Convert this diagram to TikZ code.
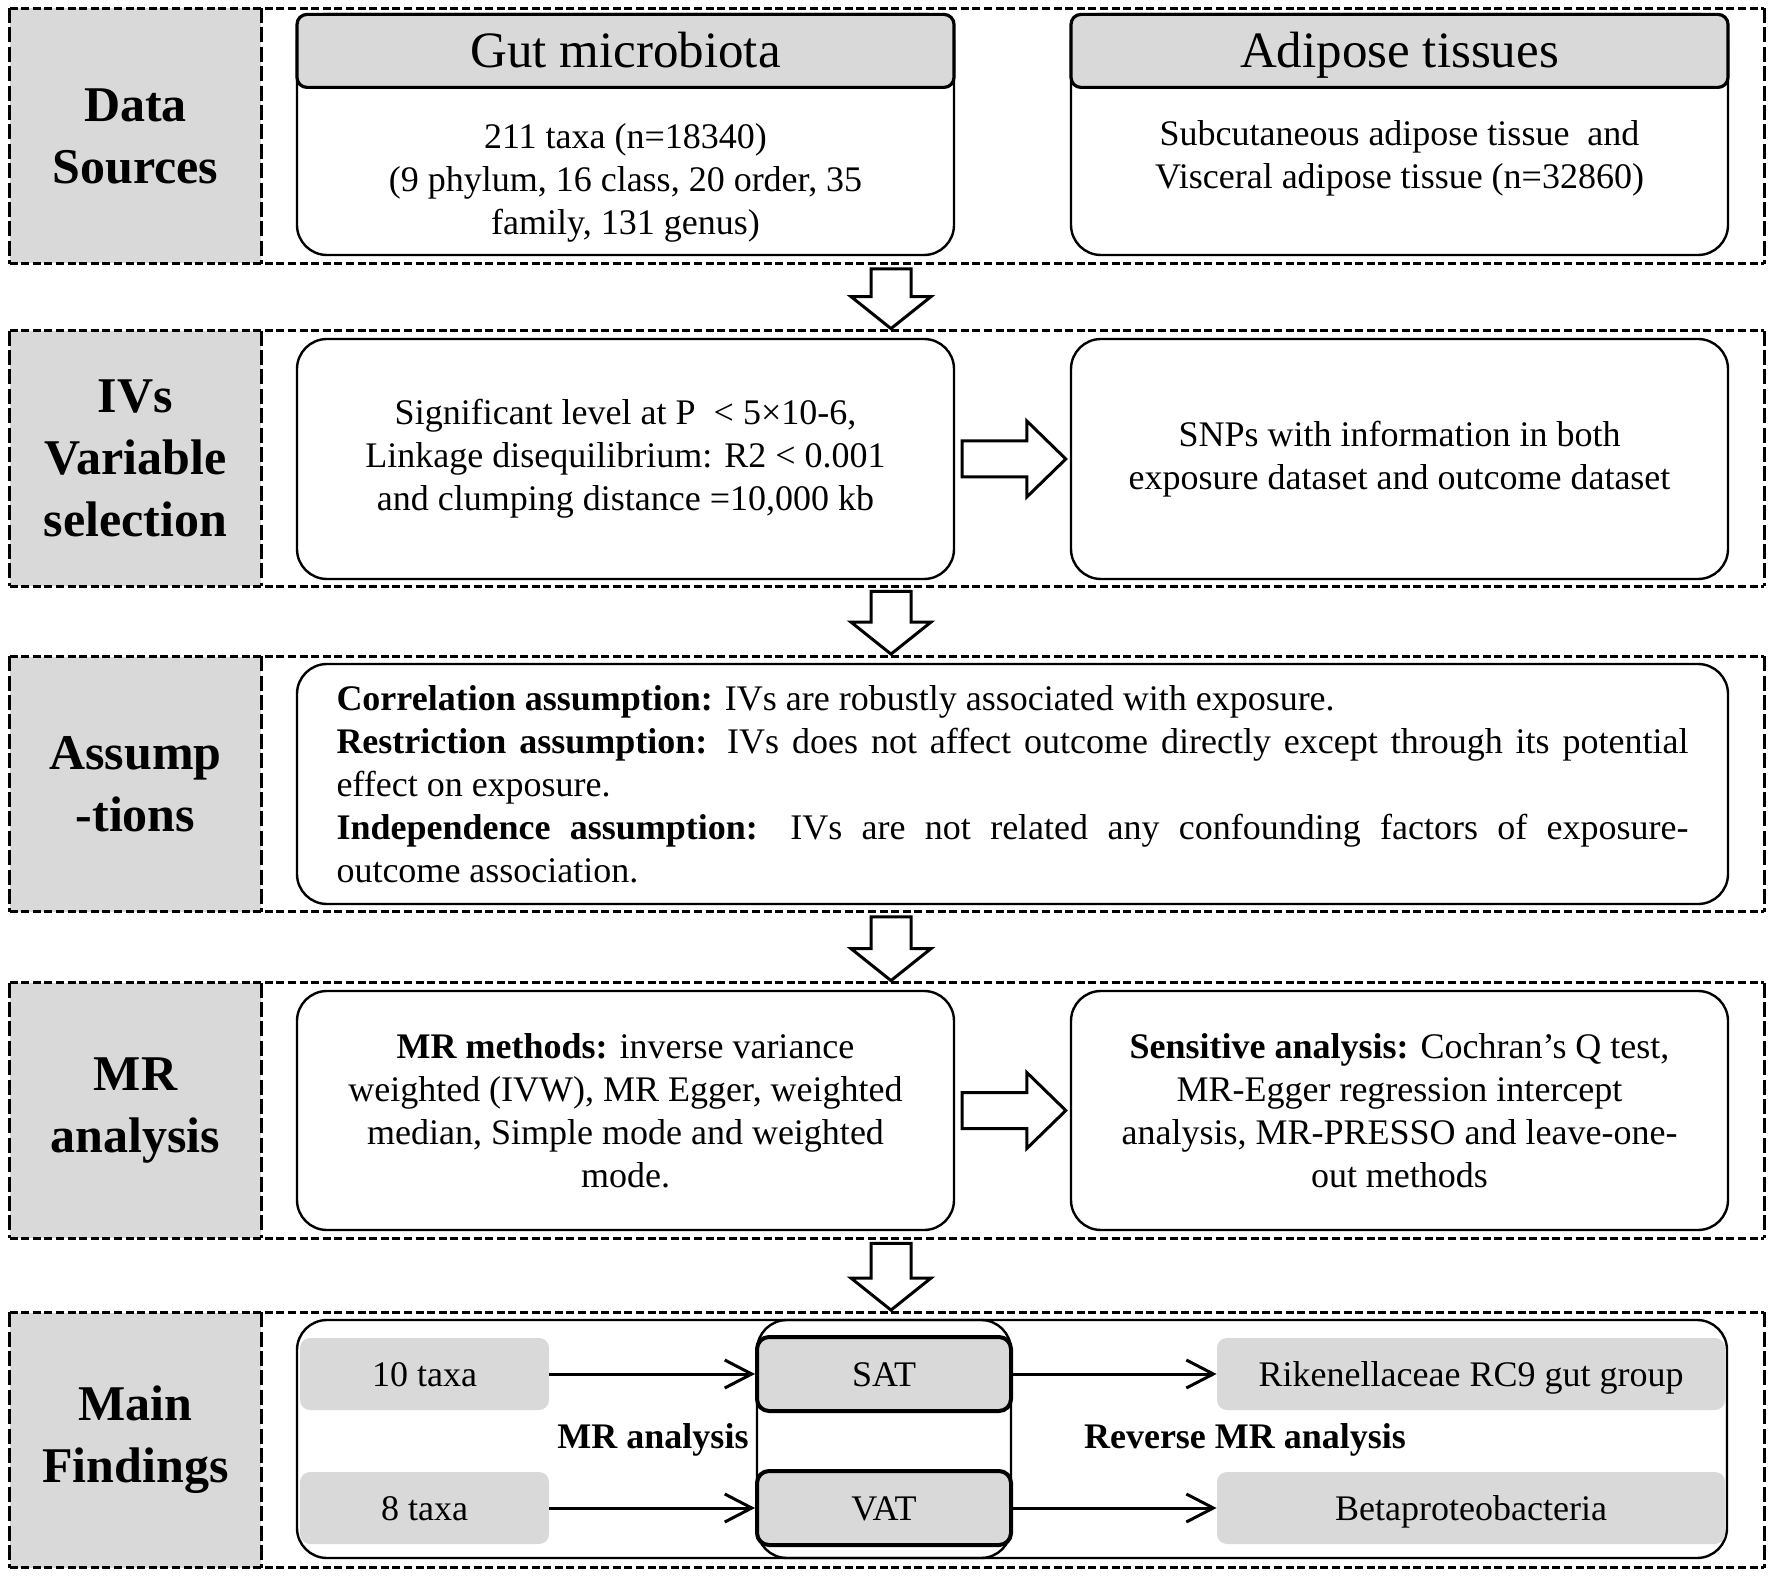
\documentclass[tikz,border=0pt]{standalone}
\usepackage{fontspec}
\setmainfont{Liberation Serif}
\usepackage{tikz}
\usetikzlibrary{arrows.meta, calc, positioning}
\definecolor{cellGray}{HTML}{D9D9D9}
\setlength{\parindent}{0pt}
\tikzstyle{sectFrame} = [minimum width=877pt, minimum height=127.5pt, inner sep=0pt]
\tikzstyle{frameH} = [line width=1.5pt, dash pattern=on 4pt off 1.8pt]
\tikzstyle{frameV} = [line width=1.3pt, dash pattern=on 7.5pt off 2.2pt]
\tikzstyle{labelCell} = [fill=cellGray, minimum width=125.5pt, minimum height=127.5pt,
   inner sep=0pt, align=center, font=\fontsize{25}{31}\selectfont\bfseries]
\tikzstyle{bodyText} = [align=center, font=\fontsize{18}{21.5}\selectfont]
\tikzstyle{mainBox} = [draw, line width=1.2pt, rounded corners=15pt, minimum width=328.5pt, bodyText]
\tikzstyle{headBox} = [draw, fill=cellGray, line width=1.6pt, rounded corners=5pt,
   minimum width=328.5pt, minimum height=36.5pt, text height=17pt, text depth=0pt,
   font=\fontsize{25.5}{30}\selectfont]
\tikzstyle{grayBox} = [fill=cellGray, rounded corners=5pt, minimum height=36pt,
   text height=13pt, text depth=1pt, bodyText]
\tikzstyle{siteBox} = [draw, fill=cellGray, line width=2pt, rounded corners=6pt,
   minimum width=127pt, minimum height=37pt, text height=13pt, text depth=1pt, bodyText]
\tikzstyle{thinArrow} = [line width=1.5pt, -{Straight Barb[length=13.5pt, width=14pt]}]
\tikzstyle{blockDown} = [draw, line width=1.5pt, fill=white,
   to path={let \p1=(\tikztostart), \p2=(\tikztotarget) in
   (\x1-10pt,\y1-2.5pt) -- (\x1+10pt,\y1-2.5pt) -- (\x1+10pt,\y2+17pt) -- (\x1+20pt,\y2+17pt)
   -- (\x1,\y2+1pt) -- (\x1-20pt,\y2+17pt) -- (\x1-10pt,\y2+17pt) -- cycle}]
\tikzstyle{blockRight} = [draw, line width=1.5pt, fill=white,
   to path={let \p1=(\tikztostart), \p2=(\tikztotarget) in
   (\x1+3.5pt,\y1-9pt) -- (\x2-21.5pt,\y1-9pt) -- (\x2-21.5pt,\y1-19pt) -- (\x2-2pt,\y1)
   -- (\x2-21.5pt,\y1+19pt) -- (\x2-21.5pt,\y1+9pt) -- (\x1+3.5pt,\y1+9pt) -- cycle}]

\begin{document}
\begin{tikzpicture}[x=0.5pt, y=-0.5pt]
  \useasboundingbox (0,0) rectangle (1772,1577);

  % sections and their grey label cells
  \node[sectFrame] (s1) at (887,136) {};
  \node[sectFrame] (s2) at (887,458.5) {};
  \node[sectFrame] (s3) at (887,784) {};
  \node[sectFrame] (s4) at (887,1110.5) {};
  \node[sectFrame] (s5) at (887,1440) {};
  \node[labelCell] (lab1) at (135.5,136) {Data\\Sources};
  \node[labelCell] (lab2) at (135.5,458.5) {IVs\\Variable\\selection};
  \node[labelCell] (lab3) at (135.5,784) {Assump\\-tions};
  \node[labelCell] (lab4) at (135.5,1110.5) {MR\\analysis};
  \node[labelCell] (lab5) at (135.5,1440) {Main\\Findings};
  \foreach \i in {1,...,5}{
    \draw[frameH] (s\i.north west) -- (s\i.north east) (s\i.south west) -- (s\i.south east);
    \draw[frameV] (s\i.north west) -- (s\i.south west) (s\i.north east) -- (s\i.south east);
    \draw[frameV] (lab\i.north east) -- (lab\i.south east);
  }

  % data sources
  \node[mainBox, minimum height=120.5pt] (gut) at (625.5,134.5) {};
  \node[mainBox, minimum height=120.5pt, right=57.3pt of gut] (adip) {};
  \node[headBox, anchor=north] (gutH) at (gut.north) {Gut microbiota};
  \node[headBox, anchor=north] (adipH) at (adip.north) {Adipose tissues};
  \node[bodyText] (gutT) at (625.5,183) {211 taxa (n=18340)\\(9 phylum, 16 class, 20 order, 35\\family, 131 genus)};
  \node[bodyText] (adipT) at (1399.5,158) {Subcutaneous adipose tissue\ \ and\\Visceral adipose tissue (n=32860)};

  % IVs selection
  \node[mainBox, minimum height=120pt] (ivL) at (625.5,459)
    {Significant level at P\ \ < 5×10-6,\\Linkage disequilibrium: R2 < 0.001\\and clumping distance =10,000 kb};
  \node[mainBox, minimum height=120pt, right=57.3pt of ivL] (ivR)
    {SNPs with information in both\\exposure dataset and outcome dataset};
  \draw[blockRight] (ivL.east) to (ivR.west);

  % assumptions
  \node[mainBox, minimum width=715.5pt, minimum height=120pt, text width=676pt, align=justify] (asm) at (1012.5,784)
    {\textbf{Correlation assumption:} IVs are robustly associated with exposure.\\
     \textbf{Restriction assumption:} IVs does not affect outcome directly except through its potential\linebreak
     effect on exposure.\\
     \textbf{Independence assumption:} IVs are not related any confounding factors of exposure-\linebreak
     outcome association.};

  % MR analysis
  \node[mainBox, minimum height=119.5pt] (mrL) at (625.5,1110.5)
    {\textbf{MR methods:} inverse variance\\weighted (IVW), MR Egger, weighted\\median, Simple mode and weighted\\mode.};
  \node[mainBox, minimum height=119.5pt, right=57.3pt of mrL] (mrR)
    {\textbf{Sensitive analysis:} Cochran’s Q test,\\MR-Egger regression intercept\\analysis, MR-PRESSO and leave-one-\\out methods};
  \draw[blockRight] (mrL.east) to (mrR.west);

  % main findings
  \node[mainBox, minimum width=715pt, minimum height=119pt] (find) at (1012,1439) {};
  \node[draw, line width=1.2pt, rounded corners=15pt, minimum width=127pt, minimum height=119pt] (col) at (884,1439) {};
  \node[siteBox] (sat) at (884,1374) {SAT};
  \node[siteBox] (vat) at (884,1508) {VAT};
  \node[grayBox, minimum width=124.5pt] (t10) at (424.5,1374) {10 taxa};
  \node[grayBox, minimum width=124.5pt] (t8) at (424.5,1508) {8 taxa};
  \node[grayBox, minimum width=254pt] (rik) at (1471,1374) {Rikenellaceae RC9 gut group};
  \node[grayBox, minimum width=254pt] (beta) at (1471,1508) {Betaproteobacteria};
  \node[bodyText] (mrLab) at (653,1440) {\textbf{MR analysis}};
  \node[bodyText] (revLab) at (1245,1440) {\textbf{Reverse MR analysis}};
  \draw[thinArrow] (t10) -- (sat);
  \draw[thinArrow] (t8) -- (vat);
  \draw[thinArrow] (sat) -- (rik);
  \draw[thinArrow] (vat) -- (beta);

  % block arrows between sections
  \draw[blockDown] ([xshift=2pt]s1.south) to ([xshift=2pt]s2.north);
  \draw[blockDown] ([xshift=2pt]s2.south) to ([xshift=2pt]s3.north);
  \draw[blockDown] ([xshift=2pt]s3.south) to ([xshift=2pt]s4.north);
  \draw[blockDown] ([xshift=2pt]s4.south) to ([xshift=2pt]s5.north);
\end{tikzpicture}
\end{document}
